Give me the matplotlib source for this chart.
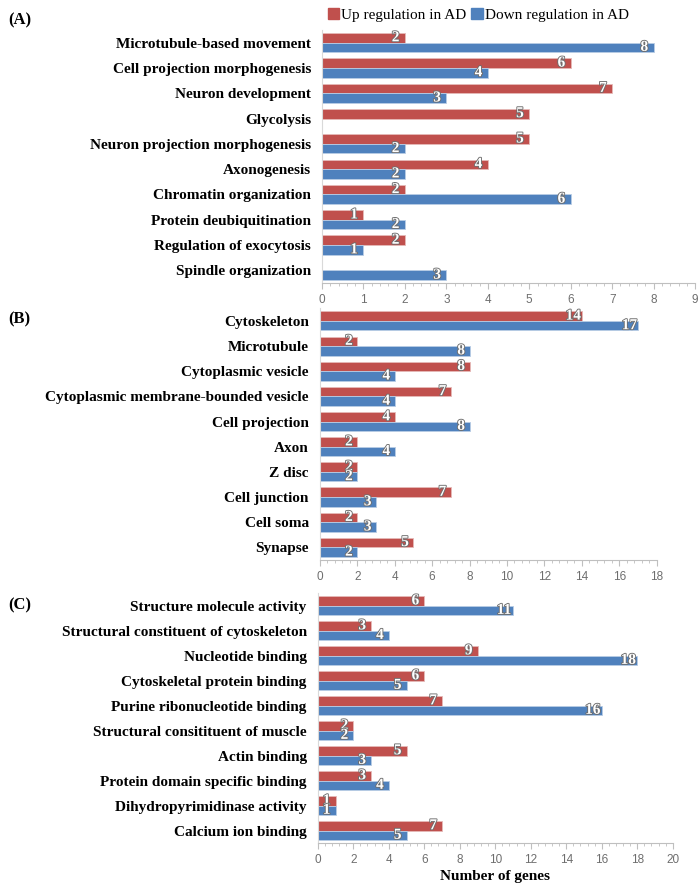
import matplotlib
matplotlib.use("Agg")
import numpy as np
import matplotlib.pyplot as plt
import matplotlib.patheffects as pe
from matplotlib.patches import Patch
from matplotlib.ticker import MultipleLocator

plt.rcParams["font.family"] = ["Liberation Serif", "DejaVu Serif"]

RED = "#C0504D"
BLUE = "#4F81BD"

# ---------------- data ----------------
cats_a = ["Microtubule-based movement", "Cell projection morphogenesis", "Neuron development",
          "Glycolysis", "Neuron projection morphogenesis", "Axonogenesis",
          "Chromatin organization", "Protein deubiquitination", "Regulation of exocytosis",
          "Spindle organization"]
up_a = [2, 6, 7, 5, 5, 4, 2, 1, 2, 0]
down_a = [8, 4, 3, 0, 2, 2, 6, 2, 1, 3]

cats_b = ["Cytoskeleton", "Microtubule", "Cytoplasmic vesicle", "Cytoplasmic membrane-bounded vesicle",
          "Cell projection", "Axon", "Z disc", "Cell junction", "Cell soma", "Synapse"]
up_b = [14, 2, 8, 7, 4, 2, 2, 7, 2, 5]
down_b = [17, 8, 4, 4, 8, 4, 2, 3, 3, 2]

cats_c = ["Structure molecule activity", "Structural constituent of cytoskeleton", "Nucleotide binding",
          "Cytoskeletal protein binding", "Purine ribonucleotide binding",
          "Structural consitituent of muscle", "Actin binding", "Protein domain specific binding",
          "Dihydropyrimidinase activity", "Calcium ion binding"]
up_c = [6, 3, 9, 6, 7, 2, 5, 3, 1, 7]
down_c = [11, 4, 18, 5, 16, 2, 3, 4, 1, 5]

# tag, categories, up, down, xmax, step, axes rect, tag y (fig fraction)
panels = [
    ("(A)", cats_a, up_a, down_a, 9, 1, [0.460, 0.6806, 0.533, 0.2856], 1 - 20 / 886),
    ("(B)", cats_b, up_b, down_b, 18, 2, [0.457, 0.368, 0.481, 0.284], 1 - 319 / 886),
    ("(C)", cats_c, up_c, down_c, 20, 2, [0.454, 0.0485, 0.507, 0.282], 1 - 605 / 886),
]

fig = plt.figure(figsize=(7, 8.86), dpi=100)
outline = [pe.withStroke(linewidth=1.3, foreground="#6E6E6E")]

for tag, cats, up, down, xmax, step, rect, tag_y in panels:
    ax = fig.add_axes(rect)
    y = np.arange(len(cats))
    h = 0.38
    ax.barh(y - h / 2, up, height=h, color=RED, edgecolor="#E6B9B8", linewidth=0.6)
    ax.barh(y + h / 2, down, height=h, color=BLUE, edgecolor="#B9CDE5", linewidth=0.6)
    for yi, v in zip(y, up):
        if v > 0:
            ax.text(v - xmax * 0.025, yi - h / 2, str(v), ha="center", va="center", color="white",
                    fontsize=11, fontweight="bold", path_effects=outline)
    for yi, v in zip(y, down):
        if v > 0:
            ax.text(v - xmax * 0.025, yi + h / 2, str(v), ha="center", va="center", color="white",
                    fontsize=11, fontweight="bold", path_effects=outline)
    ax.set_ylim(len(cats) - 0.5, -0.5)
    ax.set_xlim(0, xmax)
    ax.set_yticks(y)
    ax.set_yticklabels(cats, fontsize=11, fontweight="bold")
    ax.tick_params(axis="y", length=0, pad=8)
    ax.xaxis.set_major_locator(MultipleLocator(step))
    ax.xaxis.set_minor_locator(MultipleLocator(step / 5))
    ax.tick_params(axis="x", which="major", length=4, color="#BFBFBF", labelsize=8.5,
                   labelcolor="#6E6E6E", pad=4)
    ax.tick_params(axis="x", which="minor", length=2, color="#BFBFBF")
    for lbl in ax.get_xticklabels():
        lbl.set_fontfamily("Liberation Sans")
    for s in ["top", "right"]:
        ax.spines[s].set_visible(False)
    ax.spines["left"].set_color("#D9D9D9")
    ax.spines["bottom"].set_color("#BFBFBF")
    fig.text(0.012, tag_y, tag, fontsize=12, fontweight="bold", va="center")
    if tag == "(C)":
        ax.set_xlabel("Number of genes", fontsize=11, fontweight="bold", labelpad=3)

handles = [Patch(facecolor=RED, edgecolor=RED), Patch(facecolor=BLUE, edgecolor=BLUE)]
fig.legend(handles, ["Up regulation in AD", "Down regulation in AD"], loc="center left",
           bbox_to_anchor=(0.468, 1 - 15 / 886), ncol=2, frameon=False, fontsize=11,
           handlelength=0.75, handleheight=0.75, handletextpad=0.15, columnspacing=0.3,
           borderpad=0, borderaxespad=0)

fig.savefig("out.png", dpi=100)
